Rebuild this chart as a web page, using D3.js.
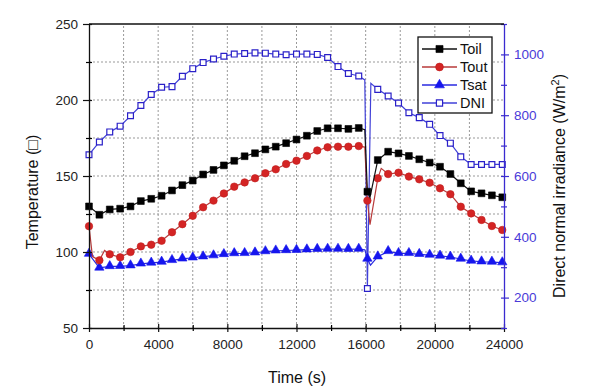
<!DOCTYPE html>
<html>
<head>
<meta charset="utf-8">
<script src="https://cdn.jsdelivr.net/npm/d3@7"></script>
<style>
body { margin: 0; background: #fff; }
text { font-family: Arial, "Liberation Sans", sans-serif; }
</style>
</head>
<body>
<div id="chart"></div>
<script>
// ---------- data ----------//

// marker times (s)
var times = [0, 600, 1200, 1800, 2400, 3000, 3600, 4200, 4800, 5400, 6000, 6600, 7200, 7800,
    8400, 9000, 9600, 10200, 10800, 11400, 12000, 12600, 13200, 13800, 14400, 15000, 15600,
    16100, 16700, 17300, 17900, 18500, 19100, 19700, 20300, 20900, 21500, 22100, 22700, 23300, 23900];

var toil = [130, 124.5, 128, 128.5, 130, 133.5, 135, 137, 140.5, 144, 147, 151, 154, 157,
    160, 163, 165, 167.5, 169.3, 171.6, 174, 176.5, 179.6, 181.4, 181.4, 181, 181.6,
    139.7, 160.5, 166, 164.9, 163.2, 161, 158.8, 156.1, 151.3, 145.2, 139.9, 138.6, 137.3, 136];

var tout = [117, 94.5, 98.5, 96.5, 100, 103.7, 104.8, 107.4, 113, 118.3, 123.8, 129.4, 133.8, 138.5,
    143, 145.8, 148.5, 151.8, 154.4, 157.9, 160.1, 163.2, 166.8, 168.9, 169.3, 169.3, 169.7,
    133.8, 148.5, 151.3, 152.2, 149.6, 147.8, 145.6, 141.9, 138, 129.8, 125.4, 121.1, 117.1, 114.5];

var tsat = [98.6, 89.5, 90.5, 90.6, 91, 92.2, 92.8, 93.4, 94.5, 95.5, 96.2, 96.9, 97.6, 98.4,
    99, 99.1, 99.5, 100.3, 100.8, 101, 101.2, 101.5, 101.8, 101.9, 101.9, 101.8, 101.9,
    95.4, 96.9, 100.4, 99.1, 99.1, 98.5, 98, 97.4, 96.7, 95.4, 94.1, 93.6, 93.4, 93];

var dni = [670, 712, 745, 764, 798, 832, 868, 892, 894, 928, 953, 973, 985, 994,
    1001, 1003, 1005, 1004, 1001, 999, 1001, 1001, 1000, 990, 960, 937, 929,
    230, 885, 863, 840, 808, 792, 770, 733, 708, 663, 638, 638, 638, 638];

// extra line vertices (no marker) around the start and the cloud dip
var toilExtraT = [15950, 16250],        toilExtra = [180.5, 136];
var toutExtraT = [200, 900, 15950, 16250, 16900], toutExtra = [97, 101, 169, 118, 155];
var tsatExtraT = [15950, 16280],        tsatExtra = [101.5, 91.4];
var dniExtraT  = [15950, 16300],        dniExtra  = [916, 905];

var xMajor = [0, 4000, 8000, 12000, 16000, 20000, 24000];
var xMinor = [2000, 6000, 10000, 14000, 18000, 22000];
var yMajor = [50, 100, 150, 200, 250];
var yMinor = [75, 125, 175, 225];
var dMajor = [200, 400, 600, 800, 1000];
var dMinor = [100, 300, 500, 700, 900, 1100];

var legendNames = ["Toil", "Tout", "Tsat", "DNI"];

// ---------- chart ----------//

var width = 600, height = 386;
var axisBlue = "#3a2bd0";
var fmt = d3.format("d");

var svg = d3.select("#chart").append("svg")
    .attr("width", width)
    .attr("height", height);

var x = d3.scaleLinear().domain([0, 24000]).range([89, 504]);
var yT = d3.scaleLinear().domain([50, 250]).range([328, 24]);
var yD = d3.scaleLinear().domain([100, 1100]).range([328, 24]);

// dotted grid
var grid = svg.append("g").attr("class", "grid")
    .style("stroke", "#999")
    .style("stroke-width", 1)
    .style("stroke-dasharray", "2,2");

grid.selectAll("line.v")
    .data(xMajor.concat(xMinor).filter(function(d){ return d > 0 && d < 24000; }))
    .enter().append("line")
    .attr("x1", function(d){ return x(d); })
    .attr("x2", function(d){ return x(d); })
    .attr("y1", yT(50))
    .attr("y2", yT(250));

grid.selectAll("line.h")
    .data(yMajor.concat(yMinor).filter(function(d){ return d > 50 && d < 250; }))
    .enter().append("line")
    .attr("x1", x(0))
    .attr("x2", x(24000))
    .attr("y1", function(d){ return yT(d); })
    .attr("y2", function(d){ return yT(d); });

// build line points: markers plus extra vertices, sorted by time
function pts(tArr, vArr, tEx, vEx) {
    var p = tArr.map(function(t, i){ return {t: t, v: vArr[i]}; });
    tEx.forEach(function(t, i){ p.push({t: t, v: vEx[i]}); });
    p.sort(function(a, b){ return a.t - b.t; });
    return p;
}
function markers(tArr, vArr) {
    return tArr.map(function(t, i){ return {t: t, v: vArr[i]}; });
}

var series = [
    {name: "Toil", y: yT, vals: toil, exT: toilExtraT, ex: toilExtra, line: "#111111",
        sym: d3.symbolSquare, size: 46, fill: "#000000", stroke: "#000000"},
    {name: "Tout", y: yT, vals: tout, exT: toutExtraT, ex: toutExtra, line: "#b83a3a",
        sym: d3.symbolCircle, size: 44, fill: "#d42424", stroke: "#c01c1c"},
    {name: "Tsat", y: yT, vals: tsat, exT: tsatExtraT, ex: tsatExtra, line: "#2a2ae0",
        sym: d3.symbolTriangle, size: 38, fill: "#1515ee", stroke: "#1515ee"},
    {name: "DNI", y: yD, vals: dni, exT: dniExtraT, ex: dniExtra, line: "#4040d8",
        sym: d3.symbolSquare, size: 34, fill: "#ffffff", stroke: "#2a20c8"}
];

// draw DNI first so temperatures sit on top
[3, 2, 1, 0].forEach(function(k) {
    var s = series[k];
    var line = d3.line()
        .x(function(d){ return x(d.t); })
        .y(function(d){ return s.y(d.v); });

    svg.append("path")
        .datum(pts(times, s.vals, s.exT, s.ex))
        .attr("d", line)
        .style("fill", "none")
        .style("stroke", s.line)
        .style("stroke-width", 1.2);

    svg.append("g").selectAll("path")
        .data(markers(times, s.vals))
        .enter().append("path")
        .attr("d", d3.symbol().type(s.sym).size(s.size))
        .attr("transform", function(d){
            var dy = s.sym === d3.symbolTriangle ? -0.5 : 0;
            return "translate(" + x(d.t) + "," + (s.y(d.v) + dy) + ")";
        })
        .style("fill", s.fill)
        .style("stroke", s.stroke)
        .style("stroke-width", s.name === "DNI" ? 1.2 : 0.6);
});

// ---------- axes ----------//

function crossTicks(g, len) {
    g.selectAll(".tick line").attr("y1", -len);
}

var xAxis = svg.append("g")
    .attr("transform", "translate(0," + yT(50) + ")")
    .call(d3.axisBottom(x).tickValues(xMajor).tickFormat(fmt).tickSizeInner(4).tickSizeOuter(0).tickPadding(7));
xAxis.call(crossTicks, 4);
svg.append("g")
    .attr("transform", "translate(0," + yT(50) + ")")
    .call(d3.axisBottom(x).tickValues(xMinor).tickFormat("").tickSize(3))
    .call(crossTicks, 3)
    .select(".domain").remove();

var yAxis = svg.append("g")
    .attr("transform", "translate(" + x(0) + ",0)")
    .call(d3.axisLeft(yT).tickValues(yMajor).tickFormat(fmt).tickSizeInner(6).tickSizeOuter(0).tickPadding(5));
yAxis.selectAll(".tick line").attr("x1", 3);
svg.append("g")
    .attr("transform", "translate(" + x(0) + ",0)")
    .call(d3.axisLeft(yT).tickValues(yMinor).tickFormat("").tickSize(3))
    .call(function(g){ g.selectAll(".tick line").attr("x1", 3); })
    .select(".domain").remove();

var dAxis = svg.append("g")
    .attr("transform", "translate(" + x(24000) + ",0)")
    .call(d3.axisRight(yD).tickValues(dMajor).tickFormat(fmt).tickSizeInner(5).tickSizeOuter(0).tickPadding(5));
dAxis.selectAll(".tick line").attr("x1", -3);
svg.append("g")
    .attr("transform", "translate(" + x(24000) + ",0)")
    .call(d3.axisRight(yD).tickValues(dMinor).tickFormat("").tickSize(3))
    .call(function(g){ g.selectAll(".tick line").attr("x1", -3).style("stroke", axisBlue); })
    .select(".domain").remove();

[xAxis, yAxis].forEach(function(g) {
    g.selectAll("text").style("font-size", "13.5px").style("fill", "#222")
        .style("font-family", "Arial, 'Liberation Sans', sans-serif");
    g.selectAll("line, .domain").style("stroke", "#111").style("stroke-width", 1.3);
});
dAxis.selectAll("text").style("font-size", "13.5px").style("fill", "#4a3ad8")
    .style("font-family", "Arial, 'Liberation Sans', sans-serif");
dAxis.selectAll("line, .domain").style("stroke", axisBlue).style("stroke-width", 1.3);
svg.selectAll("g .tick line").style("stroke-width", 1.2);

// top frame
svg.append("line")
    .attr("x1", x(0)).attr("x2", x(24000))
    .attr("y1", yT(250)).attr("y2", yT(250))
    .style("stroke", "#111").style("stroke-width", 1.3);

// axis titles
svg.append("text")
    .attr("x", 297).attr("y", 383)
    .style("text-anchor", "middle")
    .style("font-size", "16px")
    .style("fill", "#111")
    .text("Time (s)");

svg.append("text")
    .attr("transform", "translate(38,192) rotate(-90)")
    .style("text-anchor", "middle")
    .style("font-size", "16px")
    .style("fill", "#111")
    .text("Temperature (\u25A1)");

var rt = svg.append("text")
    .attr("transform", "translate(565,186) rotate(-90)")
    .style("text-anchor", "middle")
    .style("font-size", "16px")
    .style("fill", "#111");
rt.append("tspan").text("Direct normal irradiance (W/m");
rt.append("tspan").attr("dy", -6).style("font-size", "11px").text("2");
rt.append("tspan").attr("dy", 6).text(")");

// ---------- legend ----------//

var legend = svg.append("g");
legend.append("rect")
    .attr("x", 418).attr("y", 37)
    .attr("width", 74).attr("height", 76)
    .style("fill", "#fff")
    .style("stroke", "#111")
    .style("stroke-width", 1.3);

var rowY = d3.scalePoint().domain(legendNames).range([49, 103]);

legendNames.forEach(function(n, i) {
    var s = series[i];
    var yy = rowY(n);
    legend.append("line")
        .attr("x1", 422).attr("x2", 457)
        .attr("y1", yy).attr("y2", yy)
        .style("stroke", s.line).style("stroke-width", 1.3);
    legend.append("path")
        .attr("d", d3.symbol().type(s.sym).size(s.size + 4))
        .attr("transform", "translate(439.5," + yy + ")")
        .style("fill", s.fill)
        .style("stroke", s.stroke)
        .style("stroke-width", n === "DNI" ? 1.2 : 0.6);
    legend.append("text")
        .attr("x", 460).attr("y", yy + 5)
        .style("font-size", "14.5px")
        .style("fill", "#111")
        .text(n);
});
</script>
</body>
</html>
